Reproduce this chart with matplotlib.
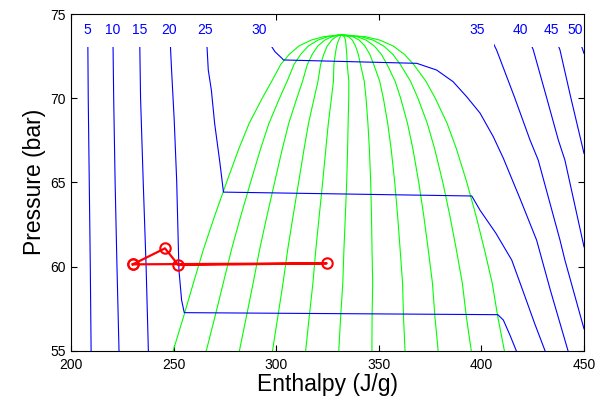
import matplotlib
matplotlib.use("Agg")
import matplotlib.pyplot as plt

plt.rcParams['font.family'] = ['Liberation Sans', 'DejaVu Sans']

# ---- saturation dome ----
dome_p = [55, 57, 59, 61, 63, 65, 67, 68.5, 70, 71, 72, 72.6, 73.1, 73.45, 73.65, 73.77]
dome_hl = [249.8, 254.8, 259.6, 264.5, 270.0, 275.8, 281.8, 286.8, 293.2, 297.8, 302.2,
           306.3, 311.1, 317.0, 323.0, 331.5]
dome_hv = [411.2, 408.0, 405.3, 401.5, 397.4, 392.9, 387.8, 383.3, 377.5, 373.0, 367.0,
           362.5, 357.0, 350.5, 343.5, 331.5]
qualities = [0.0, 0.1, 0.2, 0.3, 0.4, 0.5, 0.6, 0.7, 0.8, 0.9, 1.0]

# ---- isotherms (deg C), enthalpy J/g vs pressure bar ----
iso_labels = ['5', '10', '15', '20', '25', '30', '35', '40', '45', '50']
iso5_p = [75, 70, 65, 60, 55]
iso5_h = [208.1, 208.4, 208.9, 209.4, 209.8]
iso10_p = [75, 70, 65, 60, 55]
iso10_h = [220.3, 220.8, 221.5, 222.4, 223.4]
iso15_p = [75, 70, 65, 60, 55]
iso15_h = [233.3, 233.9, 235.2, 236.6, 237.7]
iso20_p = [75, 73.5, 71.7, 68.7, 65.1, 59.8, 58.0, 57.26, 57.14, 56.82, 55.93, 55.0]
iso20_h = [248.2, 248.3, 249.0, 250.3, 251.5, 252.6, 253.9, 255.2, 408.0, 410.7, 413.9, 417.0]
iso25_p = [75, 73.46, 71.67, 70.48, 68.5, 66.13, 64.42, 64.19, 63.35, 61.99, 60.38, 58.6, 56.6, 55.0]
iso25_h = [265.6, 266.1, 266.9, 268.4, 270.0, 272.6, 274.3, 395.3, 399.3, 407.0, 414.8, 420.1, 426.0, 431.0]
iso30_p = [75, 74.2, 73.36, 72.76, 72.37, 72.27, 72.07, 71.67, 70.98, 70.09, 69.12, 67.71, 66.43,
           63.95, 61.57, 58.6, 55.0]
iso30_h = [291.6, 293.5, 296.2, 299.4, 302.8, 303.5, 368.5, 378.2, 386.2, 392.8, 399.3, 405.8, 410.7,
           419.1, 426.9, 433.6, 442.2]
iso35_p = [75, 74.76, 73.85, 72.86, 70.07, 67.51, 66.32, 61.57, 60.38, 56.3]
iso35_h = [397.7, 400.1, 403.4, 407.4, 416.1, 423.7, 427.7, 438.3, 440.7, 450.0]
iso40_p = [75, 74.76, 73.34, 72.86, 70.07, 67.51, 66.32, 61.17]
iso40_h = [419.5, 420.3, 423.7, 425.3, 431.7, 437.5, 440.7, 450.0]
iso45_p = [75, 74.76, 73.34, 72.86, 70.07, 66.72]
iso45_h = [434.3, 435.1, 436.7, 438.3, 443.5, 450.0]
iso50_p = [75, 74.76, 73.34, 72.66]
iso50_h = [445.6, 446.4, 448.1, 450.0]
# label positions (enthalpy at label)
label_h = [208.1, 220.3, 233.6, 247.9, 265.3, 291.6, 397.7, 419.1, 434.3, 445.6]
label_p = 74.05

# ---- refrigeration cycle ----
cycle_h = [230.1, 245.8, 252.3, 324.6, 230.1]
cycle_p = [60.13, 61.08, 60.09, 60.19, 60.13]

iso_p = [iso5_p, iso10_p, iso15_p, iso20_p, iso25_p, iso30_p, iso35_p, iso40_p, iso45_p, iso50_p]
iso_h = [iso5_h, iso10_h, iso15_h, iso20_h, iso25_h, iso30_h, iso35_h, iso40_h, iso45_h, iso50_h]

fig = plt.figure(figsize=(6.06, 3.98), dpi=100)
ax = fig.add_axes([71 / 606, 1 - 350.7 / 398, 513 / 606, 336.7 / 398])

# quality lines
for q in qualities:
    hq = [hl + q * (hv - hl) for hl, hv in zip(dome_hl, dome_hv)]
    ax.plot(hq, dome_p, color=(0, 1, 0), lw=0.8, zorder=2)

# isotherms
for hs, ps in zip(iso_h, iso_p):
    ax.plot(hs, ps, color=(0, 0, 1), lw=0.8, zorder=2.1)

# label backgrounds (gap in the lines), then the labels on top
for lab, hx in zip(iso_labels, label_h):
    ax.text(hx, label_p, lab, color=(1, 1, 1, 0), fontsize=10, ha='center', va='center',
            zorder=2.2, bbox=dict(boxstyle='square,pad=0.7', fc='white', ec='none'))
for lab, hx in zip(iso_labels, label_h):
    ax.text(hx, label_p, lab, color=(0, 0, 1), fontsize=10, ha='center', va='center',
            zorder=2.3)

# cycle
ax.plot(cycle_h, cycle_p, color=(1, 0, 0), lw=1.6, marker='o', ms=7.5, mfc='none',
        mec=(1, 0, 0), mew=1.5, zorder=3)

ax.set_xlim(200, 450)
ax.set_ylim(55, 75)
ax.set_xticks([200, 250, 300, 350, 400, 450])
ax.set_yticks([55, 60, 65, 70, 75])
ax.tick_params(direction='in', top=True, right=True, length=4, width=0.8, labelsize=10)
ax.tick_params(axis='x', pad=5)
ax.tick_params(axis='y', pad=4)
for s in ax.spines.values():
    s.set_linewidth(0.8)
    s.set_zorder(2.5)

ax.set_xlabel('Enthalpy (J/g)', fontsize=16.5, labelpad=1)
ax.set_ylabel('Pressure (bar)', fontsize=16.5, labelpad=3)

fig.savefig('out.png', dpi=100)
